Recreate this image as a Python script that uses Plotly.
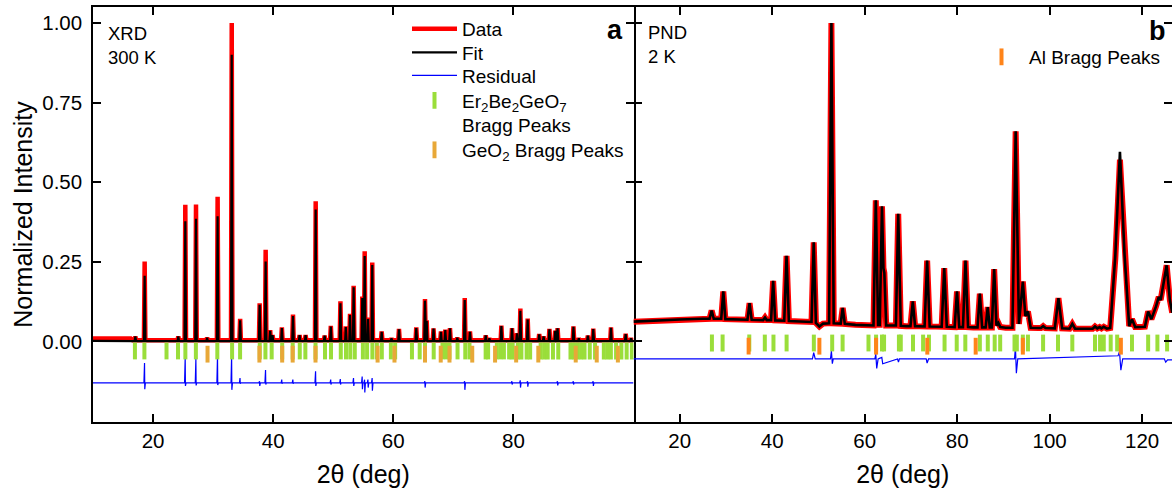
import plotly.graph_objects as go

FONT = "Liberation Sans, Arial, sans-serif"

# ---------------- Panel a : XRD, 300 K ----------------
xrd_peak_2theta = [17.05, 18.6, 24.2, 25.37, 27.15, 29.0, 30.75, 33.1, 34.5, 37.75,
                   38.75, 39.5, 39.9, 41.45, 43.3, 44.4, 45.4, 47.08, 48.57, 49.6,
                   51.2, 52.1, 52.8, 53.4, 54.84, 55.24, 55.8, 56.5, 58.07, 59.7,
                   60.95, 63.83, 65.28, 65.56, 66.7, 67.94, 68.66, 69.44, 70.66, 71.9,
                   72.77, 75.4, 76.0, 78.0, 79.77, 80.6, 81.16, 82.38, 84.3, 85.03,
                   86.0, 86.97, 87.36, 90.0, 90.9, 92.4, 93.3, 96.25, 98.7, 99.6]
xrd_peak_obs = [0.016, 0.251, 0.016, 0.429, 0.430, 0.012, 0.454, 1.000, 0.071, 0.120,
                0.288, 0.035, 0.020, 0.044, 0.084, 0.020, 0.020, 0.440, 0.018, 0.049,
                0.126, 0.047, 0.087, 0.175, 0.141, 0.283, 0.075, 0.248, 0.031, 0.010,
                0.039, 0.044, 0.133, 0.066, 0.041, 0.031, 0.037, 0.042, 0.012, 0.136,
                0.031, 0.019, 0.010, 0.050, 0.042, 0.026, 0.103, 0.072, 0.023, 0.016,
                0.039, 0.034, 0.042, 0.047, 0.010, 0.018, 0.040, 0.044, 0.024, 0.010]
xrd_peak_calc = [0.016, 0.206, 0.016, 0.377, 0.385, 0.012, 0.393, 0.900, 0.066, 0.115,
                 0.251, 0.033, 0.020, 0.042, 0.080, 0.020, 0.020, 0.414, 0.018, 0.047,
                 0.120, 0.045, 0.083, 0.170, 0.136, 0.268, 0.070, 0.240, 0.030, 0.010,
                 0.038, 0.042, 0.128, 0.064, 0.040, 0.030, 0.036, 0.041, 0.012, 0.130,
                 0.030, 0.019, 0.010, 0.048, 0.041, 0.025, 0.096, 0.069, 0.022, 0.016,
                 0.038, 0.033, 0.041, 0.046, 0.010, 0.018, 0.039, 0.043, 0.023, 0.010]
xrd_peak_halfwidth = 0.12          # degrees
xrd_bg_2theta = [10.0, 16.3, 16.6, 100.0]
xrd_bg_obs = [0.009, 0.009, 0.004, 0.004]
xrd_bg_calc = [0.002, 0.002, 0.001, 0.001]

xrd_res_level = -0.13
xrd_res_2theta = [18.6, 25.37, 27.15, 30.75, 33.1, 34.5, 37.75, 38.75, 41.45, 43.3,
                  47.08, 49.6, 51.2, 53.4, 54.84, 55.24, 55.8, 56.5, 65.28, 71.9,
                  79.77, 81.16, 82.38, 87.36, 90.0, 93.3]
xrd_res_up = [-0.068, -0.050, -0.055, -0.045, -0.045, -0.115, -0.125, -0.090, -0.120, -0.120,
              -0.094, -0.120, -0.118, -0.115, -0.110, -0.120, -0.120, -0.115, -0.125, -0.125,
              -0.125, -0.122, -0.125, -0.125, -0.125, -0.125]
xrd_res_dn = [-0.150, -0.140, -0.138, -0.137, -0.152, -0.133, -0.140, -0.135, -0.133, -0.133,
              -0.140, -0.135, -0.135, -0.140, -0.150, -0.160, -0.145, -0.155, -0.145, -0.152,
              -0.135, -0.145, -0.142, -0.138, -0.135, -0.140]

xrd_main_bragg = [16.98, 18.56, 22.24, 24.15, 25.38, 27.13, 30.70, 33.16, 34.49, 37.77,
                  38.71, 39.75, 41.50, 43.25, 44.43, 45.36, 47.05, 48.63, 49.63, 51.26,
                  52.13, 52.84, 53.59, 54.94, 55.64, 56.52, 57.27, 58.09, 59.60, 60.31,
                  63.11, 64.40, 65.28, 66.73, 68.19, 68.78, 69.36, 70.70, 71.99, 72.69,
                  75.38, 75.79, 77.25, 77.84, 78.42, 79.29, 79.88, 80.75, 81.33, 82.21,
                  82.79, 84.54, 85.13, 85.71, 86.59, 87.47, 89.51, 90.09, 90.67, 91.27,
                  91.85, 92.72, 93.60, 95.06, 95.65, 96.23, 97.10, 97.98, 98.86, 99.73]
xrd_geo2_bragg = [29.07, 37.71, 41.5, 43.25, 47.05, 57.39, 60.2, 65.28, 67.9, 69.36,
                  73.15, 76.95, 80.46, 84.15, 90.38, 93.88, 97.4]
xrd_main_tick_level = -0.030
xrd_geo2_tick_level = -0.040

# ---------------- Panel b : PND, 2 K ----------------
pnd_2theta = [10, 15, 20, 25,
              26.45, 26.9, 27.35,
              28.97, 29.42, 29.87,
              32.0,
              34.65, 35.1, 35.55,
              38.05, 38.44, 38.8,
              39.75, 40.2, 40.65,
              42.6, 43.1, 43.6,
              46.0,
              48.5, 48.97, 49.45, 50.2, 51.0,
              52.3, 52.8, 53.3,
              54.8, 55.24, 55.7,
              58.0, 60.0,
              61.9, 62.4, 62.9,
              63.25, 63.74, 64.05, 64.25, 64.65,
              66.75, 67.25, 67.8,
              69.0,
              69.9, 70.4, 70.9,
              72.95, 73.5, 74.05,
              75.5,
              76.65, 77.2, 77.75,
              79.45, 79.96, 80.45,
              81.25, 81.8, 82.35,
              83.5,
              84.4, 84.9, 85.4,
              86.15, 86.6, 87.05,
              87.5, 88.0, 88.5, 88.9, 89.3,
              90.5,
              91.95, 92.65, 93.35, 94.2, 94.75, 95.3, 95.9,
              97.5,
              98.1, 98.6, 99.1,
              101.1, 101.9, 102.7,
              104.3, 104.9, 105.5,
              108.0,
              109.3, 109.8, 110.3, 110.8, 111.2, 111.7, 112.4,
              113.1, 114.2, 115.2, 116.2, 117.2, 117.8, 118.5,
              119.5,
              120.6, 121.3, 122.0, 123.0, 123.6, 124.0, 125.3, 126.0, 126.5]
pnd_obs = [0.062, 0.066, 0.069, 0.071,
           0.071, 0.097, 0.071,
           0.071, 0.157, 0.070,
           0.069,
           0.068, 0.120, 0.068,
           0.067, 0.075, 0.067,
           0.067, 0.190, 0.066,
           0.065, 0.269, 0.064,
           0.062,
           0.061, 0.311, 0.058, 0.047, 0.056,
           0.057, 1.000, 0.057,
           0.056, 0.105, 0.055,
           0.052, 0.050,
           0.050, 0.443, 0.052,
           0.052, 0.424, 0.230, 0.215, 0.050,
           0.050, 0.401, 0.049,
           0.048,
           0.048, 0.126, 0.048,
           0.047, 0.254, 0.047,
           0.046,
           0.046, 0.230, 0.046,
           0.045, 0.157, 0.045,
           0.045, 0.254, 0.045,
           0.044,
           0.044, 0.150, 0.044,
           0.044, 0.108, 0.044,
           0.044, 0.227, 0.050, 0.058, 0.045,
           0.043,
           0.043, 0.660, 0.055, 0.188, 0.080, 0.094, 0.043,
           0.042,
           0.042, 0.048, 0.042,
           0.041, 0.136, 0.041,
           0.040, 0.055, 0.040,
           0.040,
           0.040, 0.047, 0.041, 0.045, 0.041, 0.046, 0.040,
           0.042, 0.260, 0.571, 0.260, 0.048, 0.070, 0.045,
           0.045,
           0.046, 0.094, 0.070, 0.110, 0.140, 0.130, 0.239, 0.130, 0.090]
pnd_calc_override_2theta = [115.2, 114.2, 116.2]
pnd_calc_override_value = [0.595, 0.270, 0.270]

pnd_res_2theta = [10, 48.7, 48.97, 49.3, 52.6, 52.8, 53.0, 53.2, 62.2, 62.4,
                  62.6, 62.9, 63.7, 63.9, 67.1, 67.3, 67.5, 73.3, 73.5, 73.8,
                  92.4, 92.6, 92.8, 93.1, 114.8, 115.1, 115.4, 115.8, 124.8, 125.1,
                  125.5, 126.5]
pnd_res = [-0.055, -0.055, -0.035, -0.055, -0.055, -0.030, -0.070, -0.055, -0.055, -0.040,
           -0.085, -0.055, -0.050, -0.070, -0.055, -0.065, -0.055, -0.055, -0.068, -0.055,
           -0.055, -0.018, -0.100, -0.055, -0.045, -0.032, -0.090, -0.055, -0.055, -0.065,
           -0.058, -0.058]

pnd_main_bragg = [26.96, 29.27, 35.04, 38.4, 40.27, 43.11, 49.0, 52.97, 55.22, 60.82,
                  62.46, 63.74, 64.19, 67.4, 67.8, 70.45, 72.63, 73.9, 77.27, 79.9,
                  81.76, 84.9, 86.62, 88.11, 89.3, 92.4, 92.9, 94.2, 95.3, 98.58,
                  101.8, 104.9, 109.8, 110.9, 111.7, 113.2, 114.6, 117.8, 121.3, 123.3,
                  125.4]
pnd_al_bragg = [34.9, 50.2, 62.46, 73.54, 84.0, 94.2, 115.4]
pnd_main_tick_level = -0.005
pnd_al_tick_level = -0.015


# ---------------- build polylines from the values above ----------------
def xrd_profile(peak_vals, bg_vals):
    xs = list(xrd_bg_2theta[:3])
    ys = list(bg_vals[:3])
    b = bg_vals[2]
    for p, h in zip(xrd_peak_2theta, peak_vals):
        xs += [p - xrd_peak_halfwidth, p, p + xrd_peak_halfwidth]
        ys += [b, h, b]
    xs.append(xrd_bg_2theta[3])
    ys.append(bg_vals[3])
    return xs, ys


xa_obs, ya_obs = xrd_profile(xrd_peak_obs, xrd_bg_obs)
xa_calc, ya_calc = xrd_profile(xrd_peak_calc, xrd_bg_calc)

xa_res = [10.0]
ya_res = [xrd_res_level]
for p, u, d in zip(xrd_res_2theta, xrd_res_up, xrd_res_dn):
    xa_res += [p - 0.12, p - 0.02, p + 0.02, p + 0.12]
    ya_res += [xrd_res_level, u, d, xrd_res_level]
xa_res.append(100.0)
ya_res.append(xrd_res_level)

pnd_calc = list(pnd_obs)
for t, v in zip(pnd_calc_override_2theta, pnd_calc_override_value):
    pnd_calc[pnd_2theta.index(t)] = v

RED = "#FF0000"
GREEN = "#9ADE3A"
GEO2 = "#E8A838"
AL = "#FF8419"
BLUE = "#0000FF"

W, H = 1172, 493
ML, MT, MB = 93, 7, 71
PW = W - ML
PH = H - MT - MB
SPLIT = (633.5 - ML) / PW


def px(x):
    return (x - ML) / PW


def py(y):
    return (H - MB - y) / PH


fig = go.Figure()

# panel a
fig.add_trace(go.Scatter(x=xa_obs, y=ya_obs, mode="lines", name="Data",
                         line=dict(color=RED, width=4.5), legend="legend"))
fig.add_trace(go.Scatter(x=xa_calc, y=ya_calc, mode="lines", name="Fit",
                         line=dict(color="black", width=2.2), legend="legend3"))
fig.add_trace(go.Scatter(x=xa_res, y=ya_res, mode="lines", name="Residual",
                         line=dict(color=BLUE, width=1.2), legend="legend4"))
fig.add_trace(go.Scatter(x=xrd_main_bragg, y=[xrd_main_tick_level] * len(xrd_main_bragg),
                         mode="markers",
                         name="Er<sub>2</sub>Be<sub>2</sub>GeO<sub>7</sub><br>Bragg Peaks",
                         marker=dict(symbol="line-ns", size=12,
                                     line=dict(color=GREEN, width=4)),
                         legend="legend5"))
fig.add_trace(go.Scatter(x=xrd_geo2_bragg, y=[xrd_geo2_tick_level] * len(xrd_geo2_bragg),
                         mode="markers", name="GeO<sub>2</sub> Bragg Peaks",
                         marker=dict(symbol="line-ns", size=12,
                                     line=dict(color=GEO2, width=4)),
                         legend="legend6"))

# panel b
fig.add_trace(go.Scatter(x=pnd_2theta, y=pnd_obs, mode="lines", showlegend=False,
                         line=dict(color=RED, width=6), xaxis="x2", yaxis="y2"))
fig.add_trace(go.Scatter(x=pnd_2theta, y=pnd_calc, mode="lines", showlegend=False,
                         line=dict(color="black", width=2.6), xaxis="x2", yaxis="y2"))
fig.add_trace(go.Scatter(x=pnd_res_2theta, y=pnd_res, mode="lines", showlegend=False,
                         line=dict(color=BLUE, width=1.2), xaxis="x2", yaxis="y2"))
fig.add_trace(go.Scatter(x=pnd_main_bragg, y=[pnd_main_tick_level] * len(pnd_main_bragg),
                         mode="markers", showlegend=False,
                         marker=dict(symbol="line-ns", size=12,
                                     line=dict(color=GREEN, width=4)),
                         xaxis="x2", yaxis="y2"))
fig.add_trace(go.Scatter(x=pnd_al_bragg, y=[pnd_al_tick_level] * len(pnd_al_bragg),
                         mode="markers", name="Al Bragg Peaks",
                         marker=dict(symbol="line-ns", size=12,
                                     line=dict(color=AL, width=4)),
                         xaxis="x2", yaxis="y2", legend="legend2"))

axis_common = dict(linecolor="black", linewidth=1.5, mirror="ticks",
                   ticks="inside", ticklen=8, tickwidth=1.5, tickcolor="black",
                   showgrid=False, zeroline=False,
                   tickfont=dict(family=FONT, size=20.5, color="black"))

LEG_FONT = dict(family=FONT, size=19, color="black")


def legend_at(x_px, y_px):
    return dict(x=px(x_px), y=py(y_px), xanchor="left", yanchor="middle",
                font=LEG_FONT, bgcolor="rgba(0,0,0,0)", itemwidth=45,
                valign="top", borderwidth=0)


fig.update_layout(
    width=W, height=H,
    margin=dict(l=ML, r=0, t=MT, b=MB),
    paper_bgcolor="white", plot_bgcolor="white",
    font=dict(family=FONT, color="black"),
    xaxis=dict(domain=[0, SPLIT], range=[10, 100], tickvals=[20, 40, 60, 80],
               showline=True,
               title=dict(text="2θ (deg)", font=dict(family=FONT, size=25), standoff=14),
               anchor="y", **axis_common),
    yaxis=dict(domain=[0, 1], range=[-0.253, 1.05], tickvals=[0, 0.25, 0.5, 0.75, 1.0],
               tickformat=".2f", showline=True, ticklabelstandoff=5,
               title=dict(text="Normalized Intensity", font=dict(family=FONT, size=25),
                          standoff=2),
               anchor="x", **axis_common),
    xaxis2=dict(domain=[SPLIT, 1], range=[10, 10 + (W - 633.5) / 4.624],
                tickvals=[20, 40, 60, 80, 100, 120], showline=True,
                title=dict(text="2θ (deg)", font=dict(family=FONT, size=25), standoff=14),
                anchor="y2", **axis_common),
    yaxis2=dict(domain=[0, 1], matches="y", range=[-0.253, 1.05],
                tickvals=[0, 0.25, 0.5, 0.75, 1.0], showticklabels=False, showline=False,
                anchor="x2", **axis_common),
    legend=legend_at(407, 29),
    legend3=legend_at(407, 52.5),
    legend4=legend_at(407, 75.5),
    legend5=legend_at(407, 113),
    legend6=legend_at(407, 150),
    legend2=legend_at(974, 57),
    showlegend=True,
)

ann_font = dict(family=FONT, size=18.5, color="black")
fig.add_annotation(text="XRD<br>300 K", xref="paper", yref="paper", x=px(106), y=py(21),
                   xanchor="left", yanchor="top", align="left", showarrow=False, font=ann_font)
fig.add_annotation(text="<b>a</b>", xref="paper", yref="paper", x=px(615), y=py(30),
                   xanchor="center", yanchor="middle", showarrow=False,
                   font=dict(family=FONT, size=27, color="black"))
fig.add_annotation(text="PND<br>2 K", xref="paper", yref="paper", x=px(646), y=py(20),
                   xanchor="left", yanchor="top", align="left", showarrow=False, font=ann_font)
fig.add_annotation(text="<b>b</b>", xref="paper", yref="paper", x=px(1157), y=py(31),
                   xanchor="center", yanchor="middle", showarrow=False,
                   font=dict(family=FONT, size=27, color="black"))

fig.write_html("out.html")
